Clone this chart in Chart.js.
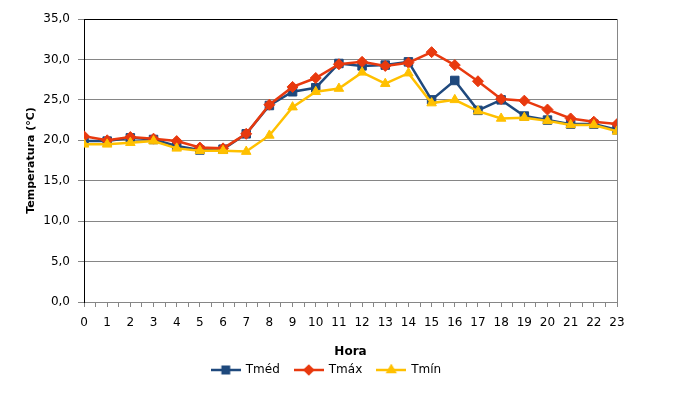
<!DOCTYPE html>
<html>
<head>
<meta charset="utf-8">
<script src="https://cdn.jsdelivr.net/npm/chart.js@4.4.1/dist/chart.umd.min.js"></script>
<style>
  html, body { margin: 0; padding: 0; background: #fff; }
  #wrap { width: 681px; height: 400px; }
</style>
</head>
<body>
<div id="wrap"><canvas id="temp-chart" width="681" height="400"></canvas></div>
<script>
const hours = [0, 1, 2, 3, 4, 5, 6, 7, 8, 9, 10, 11, 12, 13, 14, 15, 16, 17, 18, 19, 20, 21, 22, 23];
const tMed = [19.9, 19.9, 20.3, 20.1, 19.3, 18.8, 18.9, 20.8, 24.3, 26.0, 26.5, 29.5, 29.2, 29.3, 29.7, 25.0, 27.4, 23.7, 25.0, 23.0, 22.5, 22.0, 22.0, 21.3];
const tMax = [20.5, 20.0, 20.4, 20.2, 19.9, 19.1, 19.0, 20.8, 24.4, 26.6, 27.7, 29.4, 29.7, 29.2, 29.6, 30.9, 29.3, 27.3, 25.1, 24.9, 23.8, 22.7, 22.3, 22.0];
const tMin = [19.5, 19.5, 19.7, 19.9, 19.0, 18.7, 18.7, 18.6, 20.6, 24.1, 26.0, 26.4, 28.4, 27.0, 28.3, 24.6, 25.0, 23.6, 22.7, 22.8, 22.4, 21.9, 21.9, 21.1];
const yTicks = [0, 5, 10, 15, 20, 25, 30, 35];

const BLUE = '#1F497D';
const RED = '#E8390E';
const YELLOW = '#FFC000';
const GRID = '#868686';

Chart.defaults.font.family = '"DejaVu Sans", Verdana, sans-serif';
Chart.defaults.font.size = 12;
Chart.defaults.color = '#000';

const toPoints = (vals) => hours.map((h, i) => ({ x: h, y: vals[i] }));

// little line-with-marker picture for the legend, like Excel does
function legendIcon(ds) {
  const c = document.createElement('canvas');
  c.width = 30;
  c.height = 12;
  const ctx = c.getContext('2d');
  ctx.strokeStyle = ds.borderColor;
  ctx.lineWidth = 2.5;
  ctx.beginPath();
  ctx.moveTo(0, 6);
  ctx.lineTo(30, 6);
  ctx.stroke();
  ctx.fillStyle = ds.borderColor;
  Chart.helpers.drawPoint(ctx, { pointStyle: ds.pointStyle, radius: ds.pointRadius - 1.5, rotation: 0, borderWidth: 1 }, 15, 6);
  ctx.fill();
  return c;
}

const datasets = [
  { label: 'Tméd', data: toPoints(tMed), borderColor: BLUE, backgroundColor: BLUE, pointStyle: 'rect', pointRadius: 6, order: 3 },
  { label: 'Tmáx', data: toPoints(tMax), borderColor: RED, backgroundColor: RED, pointStyle: 'rectRot', pointRadius: 5.5, order: 2 },
  { label: 'Tmín', data: toPoints(tMin), borderColor: YELLOW, backgroundColor: YELLOW, pointStyle: 'triangle', pointRadius: 5.5, order: 1 },
].map(ds => Object.assign(ds, { borderWidth: 2.5, pointBorderWidth: 1, pointHoverRadius: ds.pointRadius, tension: 0 }));

const chart = new Chart(document.getElementById('temp-chart'), {
  type: 'line',
  data: { datasets },
  options: {
    responsive: false,
    animation: false,
    devicePixelRatio: 1,
    layout: { padding: { left: 0, right: 28, top: 19, bottom: 14 } },
    plugins: {
      tooltip: { enabled: false },
      legend: {
        position: 'bottom',
        labels: {
          usePointStyle: true,
          pointStyleWidth: 28,
          padding: 15,
          color: '#000',
          font: { size: 12 },
          generateLabels: (ch) => ch.data.datasets.map((ds, i) => ({
            text: ds.label,
            pointStyle: legendIcon(ds),
            fillStyle: ds.borderColor,
            strokeStyle: ds.borderColor,
            lineWidth: 0,
            hidden: false,
            datasetIndex: i,
            fontColor: '#000',
          })),
        },
      },
    },
    scales: {
      x: {
        type: 'linear',
        min: 0,
        max: 23,
        afterFit: (s) => { s.height = 47; },
        ticks: {
          stepSize: 0.5,
          autoSkip: false,
          maxRotation: 0,
          padding: 9,
          callback: (v) => Number.isInteger(v) ? String(v) : '',
        },
        grid: {
          drawOnChartArea: true,
          color: (c) => (c.tick && c.tick.value === 23) ? GRID : 'rgba(0,0,0,0)',
          tickColor: GRID,
          tickLength: 5,
          lineWidth: 1,
        },
        border: { display: true, color: GRID, width: 1 },
        title: {
          display: true,
          text: 'Hora',
          font: { size: 12, weight: 'bold' },
          padding: { top: 0, bottom: -10 },
        },
      },
      y: {
        min: 0,
        max: 35,
        afterFit: (s) => { s.width = 84; },
        afterBuildTicks: (s) => { s.ticks = yTicks.map(v => ({ value: v })); },
        ticks: {
          padding: 8,
          callback: (v) => v.toFixed(1).replace('.', ','),
        },
        grid: {
          color: (c) => (c.tick && c.tick.value === 35) ? '#000' : GRID,
          tickColor: GRID,
          tickLength: 6,
          lineWidth: 1,
        },
        border: { display: true, color: '#000', width: 1 },
        title: {
          display: true,
          text: 'Temperatura (°C)',
          font: { size: 11, weight: 'bold' },
          padding: { top: 25, bottom: 0 },
        },
      },
      // empty right axis, only keeps the plot narrower like the original
      yRight: {
        position: 'right',
        afterFit: (s) => { s.width = 36; },
        ticks: { display: false },
        grid: { display: false },
        border: { display: false },
      },
    },
  },
});
</script>
</body>
</html>
